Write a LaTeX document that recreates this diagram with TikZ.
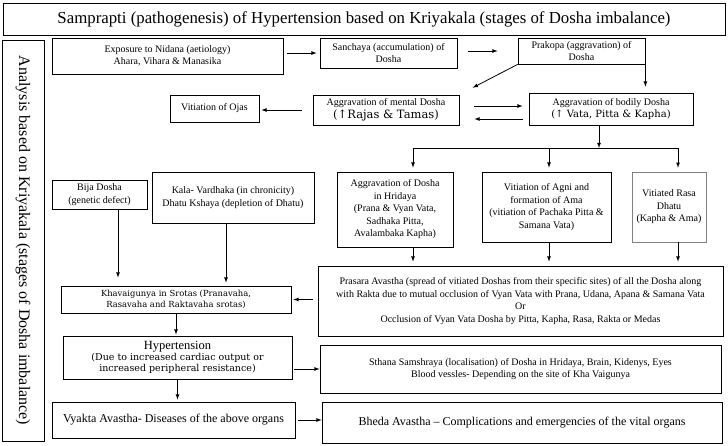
\documentclass[tikz,border=0pt]{standalone}
\usepackage{fontspec}
\setmainfont{Liberation Serif}
\newfontfamily\dvserif{DejaVu Serif}
\usetikzlibrary{arrows,calc}
\newcommand{\bodyfont}{\fontsize{10}{12.5}\selectfont}
\tikzset{
	box/.style={draw, line width=0.8pt, align=center, inner sep=1pt, font=\bodyfont},
	arr/.style={-latex, line width=0.8pt},
}
\begin{document}
\begin{tikzpicture}[x=1pt,y=-1pt]
	\useasboundingbox (0,0) rectangle (728,445);
	\node[box, line width=1pt, minimum width=722pt, minimum height=32pt, font=\fontsize{16.8}{19}\selectfont] (title) at (364,19) {Samprapti (pathogenesis) of Hypertension based on Kriyakala (stages of Dosha imbalance)};
	\node[box, line width=0.6pt, minimum width=42pt, minimum height=401pt] (side) at (23,240.5) {};
	\node[rotate=-90, font=\fontsize{16}{18}\selectfont] (sidetext) at (side.center) {Analysis based on Kriyakala (stages of Dosha imbalance)};
	% first rows
	\node[box, minimum width=231pt, minimum height=36pt] (expo) at (167.5,56) {Exposure to Nidana (aetiology)\\ Ahara, Vihara \& Manasika};
	\node[box, minimum width=137pt, minimum height=30pt] (sanch) at (388.5,53) {Sanchaya (accumulation) of\\ Dosha};
	\node[box, minimum width=127pt, minimum height=26pt] (prak) at (581.5,51) {Prakopa (aggravation) of\\ Dosha};
	\node[box, minimum width=89pt, minimum height=27pt] (ojas) at (214.5,108.5) {Vitiation of Ojas};
	\node[box, minimum width=146pt, minimum height=30pt] (mental) at (386,110) {Aggravation of mental Dosha\\ {\dvserif\fontsize{11.5}{12.5}\selectfont (↑Rajas \& Tamas)}};
	\node[box, minimum width=164pt, minimum height=32pt] (bodily) at (611,109) {Aggravation of bodily Dosha\\ {\dvserif\fontsize{10}{12.5}\selectfont (↑ Vata, Pitta \& Kapha)}};
	% middle row
	\node[box, minimum width=116pt, minimum height=75pt] (hrid) at (395,209.5) {Aggravation of Dosha\\ in Hridaya\\ (Prana \& Vyan Vata,\\ Sadhaka Pitta,\\ Avalambaka Kapha)};
	\node[box, minimum width=129pt, minimum height=70pt] (agni) at (546.5,207) {Vitiation of Agni and\\ formation of Ama\\ (vitiation of Pachaka Pitta \&\\ Samana Vata)};
	\node[box, draw=gray, line width=0.6pt, minimum width=74pt, minimum height=70pt] (rasa) at (669,207) {Vitiated Rasa\\ Dhatu\\ (Kapha \& Ama)};
	\node[box, minimum width=95pt, minimum height=29pt] (bija) at (99.5,194.5) {Bija Dosha\\ (genetic defect)};
	\node[box, minimum width=162pt, minimum height=51pt] (kala) at (233,197.5) {Kala- Vardhaka (in chronicity)\\ Dhatu Kshaya (depletion of Dhatu)};
	% lower rows
	\node[box, minimum width=230pt, minimum height=27pt, font=\dvserif\fontsize{8.4}{11}\selectfont] (khava) at (176,299.5) {Khavaigunya in Srotas (Pranavaha,\\ Rasavaha and Raktavaha srotas)};
	\node[box, minimum width=229pt, minimum height=43pt, font=\dvserif\fontsize{9.5}{11}\selectfont] (hyp) at (177.5,357.5) {{\rmfamily\fontsize{12.5}{13}\selectfont Hypertension}\\ (Due to increased cardiac output or\\ increased peripheral resistance)};
	\node[box, minimum width=243pt, minimum height=36pt, font=\fontsize{12}{14}\selectfont] (vyakta) at (173.5,420) {Vyakta Avastha- Diseases of the above organs};
	\node[box, minimum width=405pt, minimum height=70pt] (prasara) at (520.5,301) {Prasara Avastha (spread of vitiated Doshas from their specific sites) of all the Dosha along\\ with Rakta due to mutual occlusion of Vyan Vata with Prana, Udana, Apana \& Samana Vata\\ Or\\ Occlusion of Vyan Vata Dosha by Pitta, Kapha, Rasa, Rakta or Medas};
	\node[box, minimum width=401pt, minimum height=48pt] (sthana) at (520.5,369) {Sthana Samshraya (localisation) of Dosha in Hridaya, Brain, Kidenys, Eyes\\ Blood vessles- Depending on the site of Kha Vaigunya};
	\node[box, minimum width=400pt, minimum height=41pt, font=\fontsize{12}{14}\selectfont] (bheda) at (522,422.5) {Bheda Avastha -- Complications and emergencies of the vital organs};
	% connectors
	\coordinate (split) at (599,148);
	\coordinate (sL) at (413,148);
	\coordinate (sM) at (549,148);
	\coordinate (sR) at (678,148);
	\coordinate (bijaout) at (118,209);
	\coordinate (kalaout) at (226,223);
	\draw[arr, shorten <=4pt, shorten >=3pt] (expo.east |- sanch.west) -- (sanch.west);
	\draw[arr, shorten <=11pt, shorten >=20pt] (sanch.east |- prak.west) -- (prak.west);
	\draw[arr, shorten >=15pt] (prak.south west) -- (mental.north east);
	\draw[arr, shorten >=6pt] (prak.south east) -- (prak.south east |- bodily.north);
	\draw[arr, shorten <=15pt, shorten >=6pt] ([yshift=4pt]mental.east) -- ([yshift=4pt]mental.east -| bodily.west);
	\draw[arr, shorten <=6pt, shorten >=15pt] ([yshift=-9pt]mental.east -| bodily.west) -- ([yshift=-9pt]mental.east);
	\draw[arr, shorten <=11pt, shorten >=2pt] (mental.west) -- (mental.west -| ojas.east);
	\draw[arr] (bodily.south -| split) -- (split);
	\draw[line width=0.8pt] (sL) -- (sR);
	\draw[arr, shorten >=4pt] (sL) -- (sL |- hrid.north);
	\draw[arr, shorten >=4pt] (sM) -- (sM |- agni.north);
	\draw[arr, shorten >=4pt] (sR) -- (sR |- rasa.north);
	\draw[arr, shorten >=4pt] (hrid.south -| sL) -- (sL |- prasara.north);
	\draw[arr, shorten >=4pt] (agni.south -| sM) -- (sM |- prasara.north);
	\draw[arr, shorten >=4pt] (rasa.south -| sR) -- (sR |- prasara.north);
	\draw[arr, shorten >=8pt] (bijaout) -- (bijaout |- khava.north);
	\draw[arr, shorten >=3pt] (kalaout) -- (kalaout |- khava.north);
	\draw[arr, shorten <=5pt, shorten >=2pt] (prasara.west |- khava.east) -- (khava.east);
	\draw[arr, shorten >=1pt] (khava.south) -- (khava.south |- hyp.north);
	\draw[arr, shorten <=2pt] (hyp.east |- sthana.west) -- (sthana.west);
	\draw[arr, shorten >=2pt] (hyp.south) -- (hyp.south |- vyakta.north);
	\draw[arr, shorten <=3pt] (vyakta.east) -- (vyakta.east -| bheda.west);
\end{tikzpicture}
\end{document}
